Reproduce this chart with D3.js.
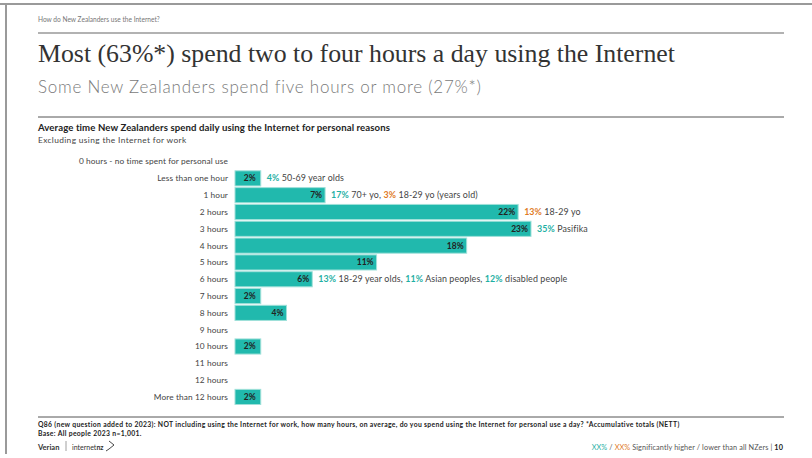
<!DOCTYPE html>
<meta charset="utf-8">
<style>
body { margin: 0; background: #fff; }
svg { display: block; font-family: Lato, "Noto Sans", sans-serif; }
.cat { font-size: 8.3px; fill: #444; text-anchor: end; letter-spacing: 0.1px; }
.val { font-size: 8.5px; font-weight: 700; fill: #222; text-anchor: end; }
.note { font-size: 8.9px; fill: #444; letter-spacing: 0.1px; }
.up { fill: #1fb0a4; font-weight: 700; }
.down { fill: #e07a1f; font-weight: 700; }
</style>
<svg width="812" height="458"></svg>
<script src="https://cdn.jsdelivr.net/npm/d3@7"></script>
<script>

var categories = ["0 hours - no time spent for personal use", "Less than one hour", "1 hour", "2 hours",
  "3 hours", "4 hours", "5 hours", "6 hours", "7 hours", "8 hours", "9 hours", "10 hours",
  "11 hours", "12 hours", "More than 12 hours"];
var values = [0, 2, 7, 22, 23, 18, 11, 6, 2, 4, 0, 2, 0, 0, 2];

// subgroup call-outs after the bar: [text, "up" | "down" | null]
var notes = {
  "Less than one hour": [["4%", "up"], [" 50-69 year olds"]],
  "1 hour": [["17%", "up"], [" 70+ yo, "], ["3%", "down"], [" 18-29 yo (years old)"]],
  "2 hours": [["13%", "down"], [" 18-29 yo"]],
  "3 hours": [["35%", "up"], [" Pasifika"]],
  "6 hours": [["13%", "up"], [" 18-29 year olds, "], ["11%", "up"], [" Asian peoples, "], ["12%", "up"], [" disabled people"]]
};

var svg = d3.select("svg");

// slide frame
svg.append("rect").attr("x", 0).attr("y", 3).attr("width", 812).attr("height", 2).attr("fill", "#9a9a9a");
svg.append("rect").attr("x", 5).attr("y", 3).attr("width", 2).attr("height", 451).attr("fill", "#9a9a9a");

svg.append("text").attr("x", 38).attr("y", 22)
    .style("font-size", "6.6px").style("fill", "#777")
    .text("How do New Zealanders use the Internet?");
svg.append("line").attr("x1", 38).attr("x2", 784).attr("y1", 33).attr("y2", 33)
    .attr("stroke", "#999").attr("stroke-width", 1.5);

svg.append("text").attr("x", 38).attr("y", 62)
    .style("font-family", "'Liberation Serif', serif").style("font-size", "25.8px").style("fill", "#333")
    .text("Most (63%*) spend two to four hours a day using the Internet");
svg.append("text").attr("x", 38).attr("y", 93)
    .style("font-size", "17px").style("fill", "#7a7a7a").style("font-weight", 300)
    .style("letter-spacing", "0.75px")
    .text("Some New Zealanders spend five hours or more (27%*)");

svg.append("line").attr("x1", 38).attr("x2", 784).attr("y1", 117).attr("y2", 117)
    .attr("stroke", "#555").attr("stroke-width", 1);
svg.append("text").attr("x", 38).attr("y", 131)
    .style("font-size", "9.6px").style("font-weight", 700).style("fill", "#222")
    .style("letter-spacing", "0.1px")
    .text("Average time New Zealanders spend daily using the Internet for personal reasons");
svg.append("text").attr("x", 38).attr("y", 143)
    .style("font-size", "8.4px").style("fill", "#444").style("letter-spacing", "0.35px")
    .text("Excluding using the Internet for work");

var x = d3.scaleLinear().domain([0, 23]).range([235, 531]);
var y = d3.scaleBand().domain(categories).range([154, 404.5]).paddingInner(0.1);

var row = svg.append("g").selectAll("g")
    .data(categories.map(function(c, i) { return {cat: c, v: values[i]}; }))
  .enter().append("g")
    .attr("transform", function(d) { return "translate(0," + y(d.cat) + ")"; });

row.append("text")
    .attr("class", "cat")
    .attr("x", 228)
    .attr("y", y.bandwidth() / 2)
    .attr("dy", ".35em")
    .text(function(d) { return d.cat; });

var bars = row.filter(function(d) { return d.v > 0; });

bars.append("rect")
    .attr("x", x(0))
    .attr("width", function(d) { return x(d.v) - x(0); })
    .attr("height", y.bandwidth())
    .attr("fill", "#21b9ad")
    .attr("stroke", "#9fe0d9")
    .attr("stroke-width", 1);

bars.append("text")
    .attr("class", "val")
    .attr("x", function(d) { return x(d.v) - (d.v < 3 ? 5 : 3); })
    .attr("y", y.bandwidth() / 2)
    .attr("dy", ".35em")
    .text(function(d) { return d.v + "%"; });

var note = bars.filter(function(d) { return notes[d.cat]; })
  .append("text")
    .attr("class", "note")
    .attr("x", function(d) { return x(d.v) + 6; })
    .attr("y", y.bandwidth() / 2)
    .attr("dy", ".35em");

note.selectAll("tspan")
    .data(function(d) { return notes[d.cat]; })
  .enter().append("tspan")
    .attr("class", function(p) { return p[1] || null; })
    .style("white-space", "pre")
    .text(function(p) { return p[0]; });

// footer
svg.append("line").attr("x1", 38).attr("x2", 784).attr("y1", 417).attr("y2", 417)
    .attr("stroke", "#555").attr("stroke-width", 1);
svg.append("text").attr("x", 38).attr("y", 427)
    .style("font-size", "6.8px").style("font-weight", 700).style("fill", "#222")
    .style("letter-spacing", "0.33px")
    .text("Q86 (new question added to 2023): NOT including using the Internet for work, how many hours, on average, do you spend using the Internet for personal use a day? *Accumulative totals (NETT)");
svg.append("text").attr("x", 38).attr("y", 436)
    .style("font-size", "6.8px").style("font-weight", 700).style("fill", "#222")
    .style("letter-spacing", "0.33px")
    .text("Base: All people 2023 n=1,001.");

svg.append("text").attr("x", 38).attr("y", 450)
    .style("font-size", "7.5px").style("font-weight", 700).style("fill", "#333")
    .text("Verian");
svg.append("line").attr("x1", 66).attr("x2", 66).attr("y1", 441).attr("y2", 451)
    .attr("stroke", "#888").attr("stroke-width", 0.8);
var nz = svg.append("text").attr("x", 72).attr("y", 450)
    .style("font-size", "7px").style("fill", "#333");
nz.append("tspan").text("internet");
nz.append("tspan").style("font-weight", 700).text("nz");
svg.append("path")
    .attr("d", "M109,441 L114,445 L109,449 M106,451 L109,449")
    .attr("fill", "none").attr("stroke", "#333").attr("stroke-width", 0.9);

var key = svg.append("text").attr("x", 783).attr("y", 450)
    .attr("text-anchor", "end")
    .style("font-size", "7.3px").style("fill", "#555").style("letter-spacing", "0.1px");
key.append("tspan").attr("class", "up").style("font-weight", 400).text("XX%");
key.append("tspan").text(" / ");
key.append("tspan").attr("class", "down").style("font-weight", 400).text("XX%");
key.append("tspan").text(" Significantly higher / lower than all NZers  |  ");
key.append("tspan").style("font-weight", 700).style("fill", "#222").text("10");

</script>
